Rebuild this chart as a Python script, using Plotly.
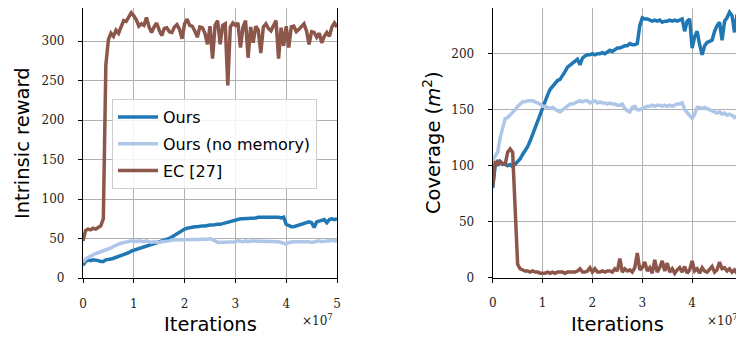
import plotly.graph_objects as go

# x positions in units of 1e7 iterations
iterations_e7 = [0.00, 0.05, 0.10, 0.15, 0.20, 0.25, 0.30, 0.35, 0.40, 0.45,
                 0.50, 0.55, 0.60, 0.65, 0.70, 0.75, 0.80, 0.85, 0.90, 0.95,
                 1.00, 1.05, 1.10, 1.15, 1.20, 1.25, 1.30, 1.35, 1.40, 1.45,
                 1.50, 1.55, 1.60, 1.65, 1.70, 1.75, 1.80, 1.85, 1.90, 1.95,
                 2.00, 2.05, 2.10, 2.15, 2.20, 2.25, 2.30, 2.35, 2.40, 2.45,
                 2.50, 2.55, 2.60, 2.65, 2.70, 2.75, 2.80, 2.85, 2.90, 2.95,
                 3.00, 3.05, 3.10, 3.15, 3.20, 3.25, 3.30, 3.35, 3.40, 3.45,
                 3.50, 3.55, 3.60, 3.65, 3.70, 3.75, 3.80, 3.85, 3.90, 3.95,
                 4.00, 4.05, 4.10, 4.15, 4.20, 4.25, 4.30, 4.35, 4.40, 4.45,
                 4.50, 4.55, 4.60, 4.65, 4.70, 4.75, 4.80, 4.85, 4.90, 4.95,
                 5.00]

series_names = ["Ours", "Ours (no memory)", "EC [27]"]
x_tick_labels = ["0", "1", "2", "3", "4", "5"]

# Intrinsic reward
reward_ours = [16, 21, 23, 22, 23, 23, 22, 21, 21, 23,
               23, 24, 25, 26, 27, 28, 30, 31, 32, 34,
               35, 36, 37, 38, 39, 40, 42, 43, 44, 45,
               46, 47, 48, 49, 50, 52, 54, 57, 59, 61,
               62, 63, 64, 64, 65, 65, 66, 66, 66, 67,
               67, 67, 68, 68, 68, 69, 69, 70, 72, 73,
               74, 74, 75, 75, 75, 75, 76, 76, 76, 77,
               77, 77, 78, 77, 78, 78, 77, 77, 76, 77,
               68, 66, 65, 65, 66, 66, 67, 69, 70, 71,
               70, 64, 71, 72, 73, 74, 70, 74, 75, 74,
               75]
reward_nomem = [20, 24, 26, 28, 30, 31, 32, 33, 34, 35,
                36, 38, 40, 42, 43, 44, 45, 46, 46, 47,
                47, 46, 47, 46, 46, 47, 46, 45, 46, 45,
                45, 46, 46, 47, 47, 48, 48, 48, 49, 49,
                49, 48, 48, 48, 49, 48, 49, 48, 49, 49,
                50, 49, 47, 45, 45, 46, 46, 45, 46, 46,
                46, 47, 46, 46, 47, 46, 47, 47, 47, 46,
                47, 47, 47, 47, 46, 47, 47, 46, 45, 44,
                43, 45, 46, 46, 46, 46, 47, 46, 46, 46,
                45, 46, 46, 47, 46, 47, 47, 47, 48, 47,
                48]
reward_ec = [47, 60, 62, 61, 63, 62, 64, 66, 75, 270,
             302, 310, 306, 314, 310, 318, 326, 325, 330, 336,
             332, 327, 319, 322, 320, 330, 318, 311, 318, 323,
             314, 307, 316, 317, 312, 311, 318, 321, 315, 303,
             322, 328, 320, 319, 313, 305, 318, 317, 310, 296,
             319, 278, 320, 326, 296, 320, 322, 244, 318, 323,
             320, 323, 292, 318, 326, 279, 318, 298, 319, 314,
             285, 318, 322, 316, 313, 320, 326, 278, 317, 294,
             319, 292, 318, 319, 312, 315, 318, 322, 313, 296,
             312, 311, 305, 310, 298, 306, 311, 306, 318, 323,
             318]

# Coverage (m^2)
coverage_ours = [80, 100, 104, 103, 101, 102, 100, 101, 99, 101,
                 103, 106, 110, 113, 117, 122, 128, 134, 140, 147,
                 153, 158, 163, 168, 171, 174, 176, 177, 180, 184,
                 188, 190, 191, 193, 195, 190, 196, 198, 199, 199,
                 200, 199, 200, 200, 201, 200, 202, 203, 202, 204,
                 205, 205, 206, 207, 207, 209, 208, 208, 209, 225,
                 232, 231, 231, 230, 229, 230, 229, 230, 228, 229,
                 229, 230, 229, 230, 229, 230, 231, 220, 229, 231,
                 205, 215, 220, 208, 199, 207, 210, 211, 212, 220,
                 225, 228, 212, 229, 232, 237, 234, 219, 235, 232,
                 228]
coverage_nomem = [105, 108, 112, 125, 135, 142, 143, 145, 147, 150,
                  153, 155, 157, 157, 158, 158, 158, 157, 156, 155,
                  153, 153, 152, 151, 152, 150, 149, 148, 150, 152,
                  154, 155, 155, 156, 157, 158, 157, 158, 158, 156,
                  157, 158, 156, 157, 156, 156, 155, 156, 155, 155,
                  154, 154, 155, 151, 149, 148, 152, 153, 150, 150,
                  151, 152, 153, 153, 154, 153, 154, 154, 153, 154,
                  153, 154, 153, 154, 155, 155, 156, 150, 148, 145,
                  142, 146, 152, 152, 151, 152, 151, 150, 149, 148,
                  147, 148, 146, 147, 145, 146, 145, 143, 145, 146,
                  146]
coverage_ec = [82, 104, 100, 104, 102, 101, 112, 115, 112, 55,
               12, 8, 7, 6, 6, 5, 6, 5, 5, 4,
               4, 4, 5, 4, 5, 4, 5, 5, 5, 4,
               5, 5, 5, 5, 6, 8, 5, 5, 6, 9,
               5, 8, 5, 5, 6, 5, 6, 6, 5, 8,
               6, 17, 5, 8, 6, 7, 5, 9, 22, 7,
               9, 14, 6, 9, 4, 16, 5, 9, 15, 6,
               13, 5, 8, 4, 7, 9, 5, 10, 4, 7,
               15, 6, 8, 4, 9, 6, 5, 8, 10, 5,
               7, 14, 8, 9, 6, 8, 5, 7, 4, 9,
               6]

colors = ["#1f77b4", "#aec7e8", "#8c564b"]

# The page body has an 8px default margin, so the figure starts at (8, 8)
OFF = 8
W, H = 744 - OFF, 338 - OFF
SANS = "DejaVu Sans"
SERIF = "DejaVu Serif"

fig = go.Figure()

left_series = [reward_ours, reward_nomem, reward_ec]
right_series = [coverage_ours, coverage_nomem, coverage_ec]

for name, ys, c in zip(series_names, left_series, colors):
    fig.add_trace(go.Scatter(x=iterations_e7, y=ys, mode="lines", name=name,
                             legendgroup=name,
                             line=dict(color=c, width=3.5),
                             xaxis="x", yaxis="y"))
for name, ys, c in zip(series_names, right_series, colors):
    fig.add_trace(go.Scatter(x=iterations_e7, y=ys, mode="lines", name=name,
                             legendgroup=name, showlegend=False,
                             line=dict(color=c, width=3.5),
                             xaxis="x2", yaxis="y2"))

def px_x(p):
    return (p - OFF) / W

def px_y(p):
    return 1 - (p - OFF) / H

axis_common = dict(
    showline=True, linecolor="black", linewidth=1.2, mirror=True,
    showgrid=True, gridcolor="#b0b0b0", gridwidth=1,
    ticks="outside", ticklen=4, tickwidth=1, tickcolor="black",
    zeroline=False, automargin=False,
    tickfont=dict(family=SERIF, size=12, color="#222"),
)

fig.update_layout(
    width=W, height=H,
    margin=dict(l=0, r=0, t=0, b=0, autoexpand=False),
    paper_bgcolor="white", plot_bgcolor="white",
    showlegend=True,
    xaxis=dict(domain=[px_x(83), px_x(337)], range=[0, 5],
               tickvals=[0, 1, 2, 3, 4, 5], ticktext=x_tick_labels,
               ticklabelstandoff=10, anchor="y", **axis_common),
    yaxis=dict(domain=[px_y(278), px_y(8)], range=[0, 342],
               tickvals=[0, 50, 100, 150, 200, 250, 300],
               ticklabelstandoff=11, anchor="x", **axis_common),
    xaxis2=dict(domain=[px_x(492.7), px_x(742)], range=[0, 5],
                tickvals=[0, 1, 2, 3, 4, 5], ticktext=x_tick_labels,
                ticklabelstandoff=10, anchor="y2", ticklabeloverflow="allow",
                **axis_common),
    yaxis2=dict(domain=[px_y(277.7), px_y(8.3)], range=[0, 240.5],
                tickvals=[0, 50, 100, 150, 200],
                ticklabelstandoff=11, anchor="x2", **axis_common),
    legend=dict(x=px_x(112), y=px_y(99), xanchor="left", yanchor="top",
                bgcolor="rgba(255,255,255,0.85)", bordercolor="#cccccc",
                borderwidth=1, font=dict(family=SANS, size=16, color="black"),
                itemwidth=40, tracegroupgap=3),
    font=dict(family=SANS, color="black"),
)

annotations = [
    dict(text="Intrinsic reward", x=px_x(22), y=px_y(143), textangle=-90,
         font=dict(family=SANS, size=19.5, color="black")),
    dict(text="Coverage (<i>m</i><sup>2</sup>)", x=px_x(432), y=px_y(143), textangle=-90,
         font=dict(family=SANS, size=19.5, color="black")),
    dict(text="Iterations", x=px_x(210), y=px_y(324),
         font=dict(family=SANS, size=19.5, color="black")),
    dict(text="Iterations", x=px_x(617), y=px_y(324),
         font=dict(family=SANS, size=19.5, color="black")),
    dict(text="×10<sup>7</sup>", x=px_x(300), y=px_y(320), xanchor="left",
         font=dict(family=SERIF, size=12, color="#222")),
    dict(text="×10<sup>7</sup>", x=px_x(705), y=px_y(320), xanchor="left",
         font=dict(family=SERIF, size=12, color="#222")),
]
for a in annotations:
    a.update(xref="paper", yref="paper", showarrow=False)
    a.setdefault("xanchor", "center")
    a.setdefault("yanchor", "middle")
fig.update_layout(annotations=annotations)

fig.write_html("out.html")
